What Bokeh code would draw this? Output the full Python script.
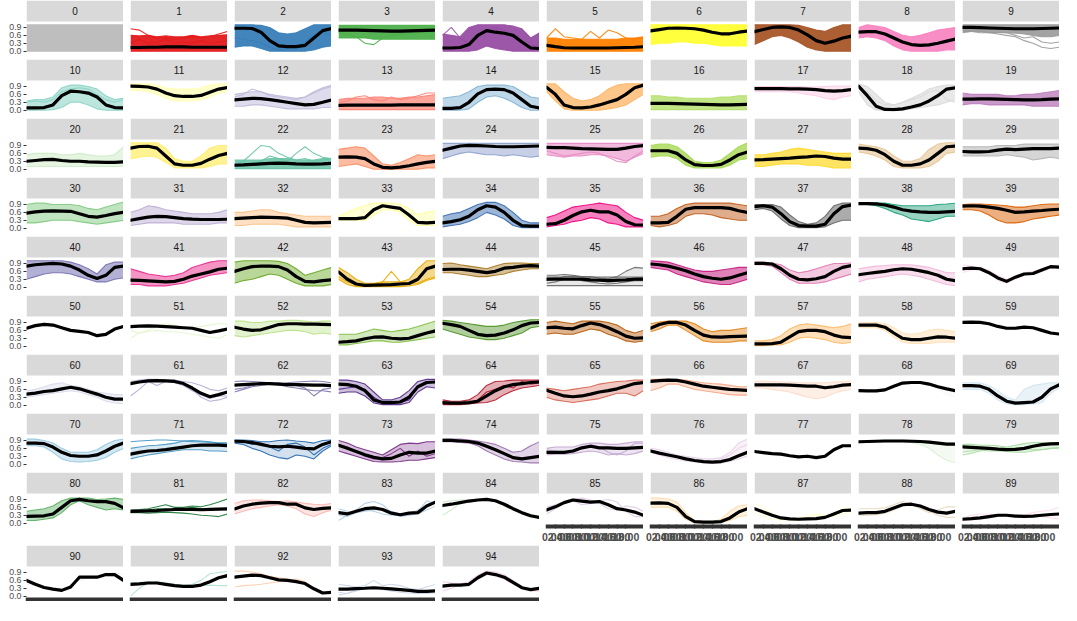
import numpy as np
from bokeh.plotting import figure
from bokeh.layouts import column, row
from bokeh.models import Range1d, FixedTicker, BoxAnnotation, Label, PrintfTickFormatter
from bokeh.embed import file_html
from bokeh.resources import INLINE

# ---------------- data ----------------
x_pos = list(range(12))
x_labels = ["00:00", "02:00", "04:00", "06:00", "08:00", "10:00",
            "12:00", "14:00", "16:00", "18:00", "20:00", "22:00"]
y_ticks = [0.0, 0.3, 0.6, 0.9]
cluster_ids = list(range(95))

cluster_colors = [
    "#BEBEBE",
    "#E41A1C", "#377EB8", "#4DAF4A", "#984EA3", "#FF7F00", "#FFFF33", "#A65628", "#F781BF", "#999999",
    "#8DD3C7", "#FFFFB3", "#BEBADA", "#FB8072", "#80B1D3", "#FDB462", "#B3DE69", "#FCCDE5", "#D9D9D9",
    "#BC80BD", "#CCEBC5", "#FFED6F",
    "#66C2A5", "#FC8D62", "#8DA0CB", "#E78AC3", "#A6D854", "#FFD92F", "#E5C494", "#B3B3B3",
    "#7FC97F", "#BEAED4", "#FDC086", "#FFFF99", "#386CB0", "#F0027F", "#BF5B17", "#666666",
    "#1B9E77", "#D95F02", "#7570B3", "#E7298A", "#66A61E", "#E6AB02", "#A6761D", "#666666",
    "#C51B7D", "#DE77AE", "#F1B6DA", "#FDE0EF", "#F7F7F7", "#E6F5D0", "#B8E186", "#7FBC41", "#4D9221",
    "#B35806", "#E08214", "#FDB863", "#FEE0B6", "#F7F7F7", "#D8DAEB", "#B2ABD2", "#8073AC", "#542788",
    "#B2182B", "#D6604D", "#F4A582", "#FDDBC7", "#F7F7F7", "#D1E5F0", "#92C5DE", "#4393C3", "#2166AC",
    "#762A83", "#9970AB", "#C2A5CF", "#E7D4E8", "#F7F7F7", "#D9F0D3", "#A6DBA0", "#5AAE61", "#1B7837",
    "#FBB4AE", "#B3CDE3", "#CCEBC5", "#DECBE4", "#FED9A6", "#FFFFCC", "#E5D8BD", "#FDDAEC", "#F2F2F2",
    "#B3E2CD", "#FDCDAC", "#CBD5E8", "#F4CAE4",
]

# opacity of the area covered by the first two member curves (lower, upper)
band_opacity = [
    1.0, 0.95, 0.95, 0.95, 0.95, 0.95, 0.95, 0.95, 0.9, 0.9,
    0.6, 0.7, 0.5, 0.7, 0.5, 0.75, 0.8, 0.5, 0.6, 0.8,
    0.5, 0.75, 0.85, 0.6, 0.5, 0.6, 0.8, 0.75, 0.6, 0.55,
    0.5, 0.5, 0.5, 0.4, 0.5, 0.5, 0.5, 0.55, 0.45, 0.5,
    0.55, 0.5, 0.45, 0.45, 0.45, 0.15, 0.55, 0.4, 0.45, 0.4,
    0.4, 0.0, 0.4, 0.35, 0.45, 0.45, 0.45, 0.45, 0.55, 0.5,
    0.4, 0.0, 0.0, 0.3, 0.35, 0.35, 0.35, 0.45, 0.5, 0.5,
    0.4, 0.2, 0.2, 0.3, 0.3, 0.3, 0.3, 0.0, 0.3, 0.3,
    0.45, 0.0, 0.35, 0.0, 0.0, 0.0, 0.35, 0.0, 0.0, 0.0,
    0.0, 0.0, 0.0, 0.0, 0.0,
]

mean_curves = [
    None,
    [0.14, 0.14, 0.15, 0.15, 0.16, 0.16, 0.16, 0.15, 0.15, 0.15, 0.15, 0.15],
    [0.87, 0.87, 0.86, 0.72, 0.4, 0.2, 0.17, 0.17, 0.22, 0.5, 0.78, 0.86],
    [0.8, 0.8, 0.8, 0.79, 0.78, 0.77, 0.76, 0.76, 0.77, 0.78, 0.79, 0.8],
    [0.12, 0.12, 0.14, 0.25, 0.6, 0.78, 0.72, 0.68, 0.6, 0.35, 0.12, 0.1],
    [0.22, 0.17, 0.13, 0.12, 0.12, 0.12, 0.12, 0.12, 0.13, 0.14, 0.15, 0.17],
    [0.77, 0.82, 0.87, 0.88, 0.87, 0.85, 0.8, 0.72, 0.66, 0.66, 0.72, 0.76],
    [0.74, 0.82, 0.9, 0.92, 0.9, 0.8, 0.62, 0.4, 0.3, 0.38, 0.5, 0.57],
    [0.72, 0.74, 0.74, 0.65, 0.5, 0.35, 0.25, 0.22, 0.24, 0.3, 0.38, 0.46],
    [0.9, 0.9, 0.89, 0.88, 0.87, 0.86, 0.85, 0.85, 0.85, 0.86, 0.87, 0.88],
    [0.09, 0.09, 0.1, 0.2, 0.55, 0.72, 0.7, 0.65, 0.5, 0.2, 0.1, 0.09],
    [0.91, 0.9, 0.88, 0.8, 0.65, 0.55, 0.52, 0.52, 0.56, 0.68, 0.8, 0.86],
    [0.39, 0.42, 0.45, 0.44, 0.4, 0.35, 0.3, 0.25, 0.2, 0.22, 0.3, 0.39],
    [0.18, 0.19, 0.19, 0.19, 0.19, 0.19, 0.19, 0.2, 0.2, 0.2, 0.2, 0.2],
    [0.07, 0.07, 0.1, 0.3, 0.62, 0.78, 0.8, 0.78, 0.65, 0.4, 0.15, 0.08],
    [0.87, 0.6, 0.2, 0.1, 0.09, 0.12, 0.2, 0.3, 0.4, 0.6, 0.85, 0.95],
    [0.26, 0.26, 0.26, 0.25, 0.24, 0.23, 0.22, 0.21, 0.2, 0.2, 0.21, 0.22],
    [0.82, 0.82, 0.82, 0.82, 0.81, 0.81, 0.8, 0.78, 0.74, 0.72, 0.74, 0.78],
    [0.91, 0.55, 0.15, 0.03, 0.02, 0.05, 0.12, 0.2, 0.35, 0.55, 0.8, 0.85],
    [0.42, 0.42, 0.43, 0.43, 0.42, 0.41, 0.4, 0.39, 0.39, 0.4, 0.42, 0.43],
    [0.3, 0.33, 0.36, 0.37, 0.33, 0.3, 0.3, 0.28, 0.27, 0.26, 0.26, 0.28],
    [0.8, 0.86, 0.87, 0.8, 0.5, 0.2, 0.15, 0.15, 0.22, 0.38, 0.52, 0.6],
    [0.15, 0.16, 0.18, 0.2, 0.22, 0.23, 0.22, 0.2, 0.19, 0.19, 0.2, 0.22],
    [0.46, 0.47, 0.46, 0.4, 0.2, 0.07, 0.05, 0.08, 0.13, 0.2, 0.26, 0.3],
    [0.72, 0.8, 0.88, 0.9, 0.89, 0.88, 0.86, 0.85, 0.85, 0.86, 0.87, 0.88],
    [0.83, 0.82, 0.82, 0.8, 0.78, 0.77, 0.76, 0.75, 0.75, 0.8, 0.86, 0.9],
    [0.7, 0.7, 0.7, 0.6, 0.35, 0.17, 0.14, 0.14, 0.18, 0.35, 0.55, 0.65],
    [0.35, 0.36, 0.38, 0.4, 0.42, 0.45, 0.47, 0.5, 0.48, 0.42, 0.38, 0.38],
    [0.8, 0.78, 0.72, 0.55, 0.3, 0.15, 0.15, 0.2, 0.35, 0.6, 0.85, 0.88],
    [0.67, 0.66, 0.66, 0.67, 0.72, 0.76, 0.74, 0.76, 0.78, 0.78, 0.78, 0.8],
    [0.57, 0.62, 0.65, 0.66, 0.65, 0.64, 0.55, 0.45, 0.42, 0.48, 0.55, 0.6],
    [0.3, 0.36, 0.42, 0.45, 0.44, 0.4, 0.36, 0.34, 0.33, 0.33, 0.33, 0.34],
    [0.36, 0.38, 0.4, 0.42, 0.41, 0.4, 0.38, 0.3, 0.22, 0.2, 0.21, 0.22],
    [0.36, 0.36, 0.36, 0.4, 0.7, 0.85, 0.8, 0.75, 0.5, 0.22, 0.2, 0.22],
    [0.2, 0.25, 0.32, 0.45, 0.7, 0.85, 0.8, 0.6, 0.3, 0.1, 0.08, 0.08],
    [0.15, 0.17, 0.3, 0.48, 0.62, 0.68, 0.62, 0.62, 0.5, 0.25, 0.13, 0.12],
    [0.2, 0.2, 0.22, 0.45, 0.72, 0.78, 0.78, 0.78, 0.78, 0.75, 0.66, 0.6],
    [0.82, 0.85, 0.8, 0.55, 0.25, 0.1, 0.08, 0.08, 0.15, 0.55, 0.82, 0.88],
    [0.93, 0.93, 0.92, 0.88, 0.8, 0.7, 0.65, 0.62, 0.6, 0.6, 0.62, 0.64],
    [0.84, 0.85, 0.84, 0.8, 0.75, 0.68, 0.6, 0.62, 0.65, 0.67, 0.7, 0.72],
    [0.8, 0.85, 0.88, 0.9, 0.88, 0.8, 0.65, 0.45, 0.33, 0.45, 0.75, 0.8],
    [0.27, 0.26, 0.24, 0.22, 0.2, 0.22, 0.3, 0.42, 0.5, 0.58, 0.68, 0.72],
    [0.6, 0.7, 0.78, 0.8, 0.8, 0.78, 0.65, 0.4, 0.22, 0.2, 0.25, 0.28],
    [0.58, 0.3, 0.12, 0.07, 0.08, 0.09, 0.1, 0.12, 0.14, 0.3, 0.7, 0.8],
    [0.67, 0.68, 0.68, 0.65, 0.6, 0.55, 0.6, 0.72, 0.75, 0.8, 0.82, 0.8],
    [0.3, 0.31, 0.3, 0.3, 0.3, 0.28, 0.27, 0.25, 0.27, 0.28, 0.3, 0.3],
    [0.88, 0.85, 0.8, 0.72, 0.62, 0.5, 0.4, 0.34, 0.3, 0.35, 0.45, 0.55],
    [0.9, 0.9, 0.88, 0.7, 0.45, 0.3, 0.28, 0.32, 0.4, 0.6, 0.75, 0.82],
    [0.47, 0.52, 0.56, 0.6, 0.66, 0.7, 0.68, 0.62, 0.55, 0.45, 0.3, 0.25],
    [0.7, 0.72, 0.7, 0.55, 0.35, 0.22, 0.38, 0.5, 0.52, 0.65, 0.78, 0.76],
    [0.68, 0.78, 0.83, 0.8, 0.7, 0.6, 0.56, 0.52, 0.4, 0.45, 0.65, 0.75],
    [0.74, 0.76, 0.77, 0.76, 0.74, 0.72, 0.7, 0.68, 0.6, 0.52, 0.58, 0.65],
    [0.72, 0.65, 0.6, 0.62, 0.72, 0.82, 0.85, 0.85, 0.84, 0.84, 0.83, 0.82],
    [0.15, 0.17, 0.2, 0.28, 0.34, 0.35, 0.3, 0.28, 0.3, 0.4, 0.5, 0.58],
    [0.87, 0.82, 0.75, 0.6, 0.45, 0.4, 0.42, 0.5, 0.62, 0.78, 0.88, 0.9],
    [0.7, 0.72, 0.68, 0.66, 0.78, 0.88, 0.82, 0.7, 0.55, 0.38, 0.3, 0.32],
    [0.68, 0.82, 0.9, 0.9, 0.8, 0.6, 0.42, 0.35, 0.34, 0.36, 0.37, 0.38],
    [0.09, 0.09, 0.1, 0.15, 0.35, 0.55, 0.6, 0.6, 0.55, 0.42, 0.34, 0.32],
    [0.8, 0.8, 0.8, 0.72, 0.5, 0.3, 0.25, 0.25, 0.3, 0.35, 0.34, 0.3],
    [0.9, 0.91, 0.9, 0.85, 0.75, 0.68, 0.68, 0.72, 0.7, 0.6, 0.5, 0.46],
    [0.42, 0.46, 0.52, 0.55, 0.62, 0.68, 0.62, 0.52, 0.42, 0.3, 0.23, 0.23],
    [0.82, 0.88, 0.92, 0.93, 0.92, 0.9, 0.82, 0.65, 0.45, 0.32, 0.4, 0.5],
    [0.76, 0.78, 0.8, 0.82, 0.82, 0.8, 0.78, 0.78, 0.77, 0.76, 0.76, 0.74],
    [0.8, 0.78, 0.72, 0.55, 0.2, 0.1, 0.1, 0.12, 0.3, 0.7, 0.86, 0.88],
    [0.1, 0.08, 0.08, 0.1, 0.15, 0.35, 0.55, 0.7, 0.78, 0.82, 0.86, 0.88],
    [0.57, 0.45, 0.35, 0.32, 0.35, 0.42, 0.5, 0.55, 0.62, 0.72, 0.82, 0.86],
    [0.9, 0.93, 0.95, 0.94, 0.88, 0.8, 0.72, 0.68, 0.64, 0.6, 0.58, 0.56],
    [0.77, 0.77, 0.77, 0.77, 0.76, 0.74, 0.72, 0.72, 0.66, 0.7, 0.76, 0.78],
    [0.55, 0.54, 0.54, 0.58, 0.72, 0.84, 0.86, 0.86, 0.8, 0.7, 0.62, 0.55],
    [0.74, 0.74, 0.72, 0.6, 0.35, 0.15, 0.08, 0.1, 0.12, 0.3, 0.62, 0.78],
    [0.8, 0.8, 0.78, 0.65, 0.45, 0.33, 0.3, 0.3, 0.35, 0.5, 0.68, 0.8],
    [0.38, 0.45, 0.5, 0.52, 0.55, 0.6, 0.65, 0.7, 0.72, 0.72, 0.72, 0.7],
    [0.87, 0.86, 0.82, 0.75, 0.68, 0.66, 0.68, 0.65, 0.6, 0.58, 0.75, 0.85],
    [0.72, 0.6, 0.48, 0.36, 0.26, 0.2, 0.22, 0.35, 0.45, 0.42, 0.42, 0.5],
    [0.9, 0.9, 0.88, 0.86, 0.8, 0.68, 0.55, 0.4, 0.25, 0.2, 0.25, 0.3],
    [0.45, 0.45, 0.45, 0.5, 0.62, 0.68, 0.62, 0.62, 0.6, 0.6, 0.62, 0.64],
    [0.5, 0.42, 0.35, 0.28, 0.2, 0.14, 0.1, 0.08, 0.1, 0.18, 0.32, 0.45],
    [0.48, 0.44, 0.4, 0.38, 0.32, 0.28, 0.3, 0.25, 0.3, 0.55, 0.7, 0.7],
    [0.85, 0.86, 0.87, 0.88, 0.88, 0.88, 0.87, 0.86, 0.84, 0.8, 0.76, 0.76],
    [0.66, 0.64, 0.62, 0.6, 0.57, 0.55, 0.56, 0.6, 0.68, 0.74, 0.77, 0.78],
    [0.26, 0.27, 0.28, 0.35, 0.6, 0.85, 0.9, 0.85, 0.82, 0.82, 0.75, 0.58],
    [0.45, 0.46, 0.47, 0.48, 0.5, 0.52, 0.52, 0.52, 0.51, 0.52, 0.53, 0.54],
    [0.54, 0.65, 0.72, 0.76, 0.78, 0.78, 0.72, 0.72, 0.58, 0.52, 0.56, 0.58],
    [0.4, 0.35, 0.45, 0.55, 0.58, 0.52, 0.38, 0.32, 0.38, 0.4, 0.65, 0.8],
    [0.67, 0.72, 0.78, 0.84, 0.88, 0.9, 0.85, 0.72, 0.55, 0.4, 0.28, 0.22],
    [0.5, 0.62, 0.78, 0.88, 0.84, 0.8, 0.82, 0.7, 0.55, 0.5, 0.42, 0.3],
    [0.76, 0.77, 0.75, 0.6, 0.25, 0.06, 0.04, 0.04, 0.06, 0.2, 0.42, 0.55],
    [0.55, 0.42, 0.3, 0.2, 0.16, 0.15, 0.16, 0.17, 0.22, 0.35, 0.48, 0.5],
    [0.38, 0.4, 0.4, 0.45, 0.58, 0.7, 0.72, 0.65, 0.52, 0.42, 0.38, 0.45],
    [0.15, 0.17, 0.2, 0.25, 0.3, 0.3, 0.27, 0.26, 0.27, 0.3, 0.33, 0.35],
    [0.6, 0.45, 0.33, 0.27, 0.22, 0.35, 0.72, 0.72, 0.72, 0.82, 0.82, 0.6],
    [0.45, 0.47, 0.5, 0.5, 0.45, 0.4, 0.37, 0.37, 0.42, 0.55, 0.7, 0.78],
    [0.72, 0.76, 0.8, 0.78, 0.7, 0.62, 0.6, 0.55, 0.48, 0.28, 0.12, 0.15],
    [0.27, 0.27, 0.29, 0.3, 0.32, 0.3, 0.28, 0.25, 0.22, 0.18, 0.18, 0.2],
    [0.38, 0.42, 0.42, 0.45, 0.7, 0.88, 0.82, 0.72, 0.52, 0.32, 0.25, 0.3],
]

# member curves of each cluster; the first two bound the shaded band
member_curves = [
    [[0.0, 0.0, 0.0, 0.0, 0.0, 0.0, 0.0, 0.0, 0.0, 0.0, 0.0, 0.0],
     [1.0, 1.0, 1.0, 1.0, 1.0, 1.0, 1.0, 1.0, 1.0, 1.0, 1.0, 1.0]],
    [[0.0, 0.0, 0.0, 0.0, 0.0, 0.0, 0.0, 0.0, 0.0, 0.0, 0.0, 0.0],
     [0.6, 0.58, 0.6, 0.55, 0.58, 0.55, 0.55, 0.6, 0.55, 0.58, 0.6, 0.62],
     [0.85, 0.8, 0.6, 0.5, 0.5, 0.45, 0.5, 0.55, 0.5, 0.55, 0.65, 0.75],
     [0.3, 0.45, 0.3, 0.35, 0.45, 0.3, 0.35, 0.3, 0.4, 0.3, 0.35, 0.4]],
    [[0.15, 0.2, 0.2, 0.1, 0.0, 0.0, 0.0, 0.0, 0.0, 0.05, 0.15, 0.2],
     [1.0, 1.0, 1.0, 0.98, 0.9, 0.7, 0.65, 0.7, 0.85, 1.0, 1.0, 1.0],
     [0.5, 0.45, 0.4, 0.3, 0.15, 0.05, 0.1, 0.2, 0.35, 0.6, 0.7, 0.6]],
    [[0.5, 0.5, 0.5, 0.5, 0.45, 0.45, 0.45, 0.45, 0.45, 0.45, 0.45, 0.45],
     [0.98, 0.98, 0.98, 0.98, 0.98, 0.98, 0.98, 0.98, 0.98, 0.98, 0.98, 0.98],
     [0.7, 0.65, 0.55, 0.3, 0.25, 0.5, 0.6, 0.65, 0.7, 0.7, 0.7, 0.7]],
    [[0.0, 0.0, 0.0, 0.0, 0.05, 0.2, 0.1, 0.05, 0.0, 0.0, 0.0, 0.0],
     [0.65, 0.6, 0.55, 0.9, 1.0, 1.0, 1.0, 1.0, 0.95, 0.85, 0.5, 0.7],
     [0.6, 0.9, 0.5, 0.3, 0.5, 0.8, 0.9, 0.8, 0.6, 0.3, 0.2, 0.2]],
    [[0.0, 0.0, 0.0, 0.0, 0.0, 0.0, 0.0, 0.0, 0.0, 0.0, 0.0, 0.0],
     [0.5, 0.5, 0.45, 0.45, 0.45, 0.45, 0.45, 0.45, 0.45, 0.5, 0.5, 0.55],
     [0.5, 0.85, 0.55, 0.5, 0.45, 0.75, 0.5, 0.8, 0.7, 0.5, 0.45, 0.5]],
    [[0.25, 0.3, 0.3, 0.35, 0.35, 0.3, 0.3, 0.25, 0.2, 0.2, 0.2, 0.2],
     [1.0, 1.0, 1.0, 1.0, 1.0, 1.0, 1.0, 1.0, 1.0, 1.0, 1.0, 1.0]],
    [[0.25, 0.4, 0.55, 0.6, 0.5, 0.35, 0.15, 0.05, 0.0, 0.0, 0.0, 0.0],
     [1.0, 1.0, 1.0, 1.0, 1.0, 0.98, 0.9, 0.8, 0.75, 0.9, 1.0, 1.0]],
    [[0.5, 0.55, 0.5, 0.4, 0.2, 0.05, 0.0, 0.0, 0.0, 0.0, 0.05, 0.05],
     [0.9, 1.0, 0.95, 0.9, 0.75, 0.6, 0.55, 0.6, 0.7, 0.8, 0.85, 0.9]],
    [[0.7, 0.75, 0.75, 0.72, 0.7, 0.7, 0.68, 0.65, 0.6, 0.55, 0.55, 0.6],
     [1.0, 1.0, 1.0, 1.0, 1.0, 1.0, 1.0, 1.0, 1.0, 1.0, 1.0, 1.0],
     [0.75, 0.75, 0.7, 0.7, 0.65, 0.6, 0.55, 0.4, 0.3, 0.15, 0.1, 0.15],
     [0.8, 0.78, 0.75, 0.7, 0.72, 0.7, 0.6, 0.5, 0.55, 0.35, 0.3, 0.35]],
    [[0.0, 0.0, 0.0, 0.02, 0.1, 0.3, 0.3, 0.2, 0.05, 0.0, 0.0, 0.0],
     [0.35, 0.4, 0.4, 0.5, 0.85, 0.95, 0.95, 0.9, 0.8, 0.55, 0.4, 0.45],
     [0.3, 0.35, 0.3, 0.4, 0.7, 0.8, 0.85, 0.8, 0.6, 0.4, 0.3, 0.4]],
    [[0.75, 0.75, 0.7, 0.6, 0.45, 0.35, 0.35, 0.35, 0.4, 0.5, 0.65, 0.7],
     [1.0, 1.0, 1.0, 0.95, 0.85, 0.8, 0.8, 0.8, 0.85, 0.95, 1.0, 1.0]],
    [[0.15, 0.15, 0.2, 0.2, 0.15, 0.1, 0.05, 0.05, 0.05, 0.05, 0.1, 0.1],
     [0.6, 0.65, 0.7, 0.7, 0.6, 0.55, 0.5, 0.45, 0.5, 0.7, 0.85, 0.95],
     [0.5, 0.6, 0.8, 0.7, 0.55, 0.5, 0.45, 0.4, 0.5, 0.65, 0.8, 0.9]],
    [[0.02, 0.02, 0.02, 0.02, 0.02, 0.02, 0.02, 0.02, 0.02, 0.02, 0.02, 0.02],
     [0.4, 0.45, 0.45, 0.45, 0.5, 0.5, 0.45, 0.45, 0.5, 0.5, 0.55, 0.6],
     [0.3, 0.35, 0.5, 0.55, 0.4, 0.35, 0.5, 0.4, 0.45, 0.55, 0.65, 0.65]],
    [[0.0, 0.0, 0.0, 0.05, 0.3, 0.5, 0.55, 0.45, 0.3, 0.1, 0.0, 0.0],
     [0.45, 0.5, 0.55, 0.7, 0.9, 0.95, 0.95, 0.95, 0.9, 0.7, 0.5, 0.45]],
    [[0.7, 0.35, 0.05, 0.0, 0.0, 0.0, 0.0, 0.05, 0.1, 0.2, 0.4, 0.6],
     [1.0, 1.0, 0.7, 0.45, 0.35, 0.4, 0.55, 0.8, 0.95, 1.0, 1.0, 1.0]],
    [[0.02, 0.02, 0.02, 0.02, 0.02, 0.02, 0.02, 0.02, 0.02, 0.02, 0.02, 0.02],
     [0.55, 0.55, 0.5, 0.5, 0.45, 0.45, 0.45, 0.45, 0.5, 0.5, 0.55, 0.55]],
    [[0.7, 0.7, 0.7, 0.7, 0.7, 0.65, 0.6, 0.55, 0.45, 0.4, 0.5, 0.55],
     [0.9, 0.9, 0.9, 0.9, 0.9, 0.9, 0.88, 0.88, 0.9, 0.92, 0.92, 0.92]],
    [[0.7, 0.2, 0.0, 0.0, 0.0, 0.0, 0.05, 0.1, 0.15, 0.2, 0.3, 0.4],
     [1.0, 0.9, 0.6, 0.3, 0.2, 0.3, 0.45, 0.6, 0.8, 0.9, 0.95, 0.95],
     [0.9, 0.7, 0.35, 0.2, 0.2, 0.3, 0.4, 0.5, 0.7, 0.75, 0.4, 0.3]],
    [[0.2, 0.25, 0.25, 0.2, 0.2, 0.2, 0.2, 0.2, 0.15, 0.15, 0.15, 0.15],
     [0.65, 0.6, 0.6, 0.6, 0.6, 0.55, 0.55, 0.6, 0.6, 0.65, 0.7, 0.75]],
    [[0.1, 0.1, 0.1, 0.1, 0.1, 0.1, 0.1, 0.1, 0.1, 0.1, 0.1, 0.1],
     [0.55, 0.6, 0.6, 0.6, 0.55, 0.55, 0.6, 0.55, 0.5, 0.5, 0.55, 0.85]],
    [[0.4, 0.45, 0.5, 0.45, 0.25, 0.05, 0.05, 0.05, 0.05, 0.1, 0.2, 0.2],
     [1.0, 1.0, 1.0, 1.0, 0.8, 0.4, 0.3, 0.3, 0.5, 0.8, 0.9, 0.9]],
    [[0.02, 0.02, 0.02, 0.02, 0.02, 0.02, 0.02, 0.02, 0.02, 0.02, 0.02, 0.02],
     [0.35, 0.35, 0.35, 0.35, 0.4, 0.4, 0.4, 0.35, 0.35, 0.35, 0.4, 0.4],
     [0.2, 0.3, 0.6, 0.9, 0.85, 0.6, 0.45, 0.35, 0.4, 0.3, 0.35, 0.4],
     [0.1, 0.15, 0.2, 0.3, 0.5, 0.4, 0.3, 0.6, 0.85, 0.6, 0.45, 0.4]],
    [[0.1, 0.15, 0.2, 0.1, 0.0, 0.0, 0.0, 0.0, 0.0, 0.0, 0.05, 0.05],
     [0.75, 0.8, 0.85, 0.8, 0.5, 0.2, 0.15, 0.25, 0.4, 0.55, 0.5, 0.55]],
    [[0.4, 0.5, 0.6, 0.65, 0.6, 0.55, 0.55, 0.5, 0.55, 0.5, 0.45, 0.5],
     [0.98, 0.98, 0.98, 0.98, 0.98, 0.98, 0.98, 0.98, 0.98, 0.98, 0.98, 0.98]],
    [[0.55, 0.5, 0.45, 0.5, 0.5, 0.55, 0.55, 0.5, 0.4, 0.3, 0.45, 0.6],
     [0.98, 0.98, 0.98, 0.98, 0.98, 0.98, 0.98, 0.98, 0.98, 0.98, 0.98, 0.98],
     [0.7, 0.6, 0.5, 0.55, 0.6, 0.65, 0.6, 0.45, 0.3, 0.25, 0.5, 0.7]],
    [[0.45, 0.5, 0.5, 0.4, 0.15, 0.05, 0.05, 0.05, 0.05, 0.15, 0.35, 0.4],
     [0.9, 0.95, 0.95, 0.85, 0.6, 0.3, 0.25, 0.25, 0.35, 0.6, 0.85, 1.0]],
    [[0.1, 0.1, 0.15, 0.2, 0.2, 0.2, 0.15, 0.15, 0.1, 0.05, 0.05, 0.05],
     [0.55, 0.55, 0.6, 0.65, 0.75, 0.8, 0.75, 0.7, 0.65, 0.6, 0.6, 0.6]],
    [[0.65, 0.6, 0.5, 0.35, 0.1, 0.05, 0.05, 0.05, 0.1, 0.3, 0.6, 0.65],
     [0.95, 0.9, 0.85, 0.75, 0.5, 0.3, 0.3, 0.4, 0.75, 0.95, 1.0, 1.0]],
    [[0.5, 0.5, 0.5, 0.5, 0.5, 0.55, 0.5, 0.45, 0.35, 0.4, 0.45, 0.4],
     [0.85, 0.85, 0.85, 0.85, 0.9, 0.9, 0.9, 0.95, 0.95, 0.95, 0.95, 0.95]],
    [[0.2, 0.2, 0.25, 0.3, 0.3, 0.3, 0.25, 0.2, 0.15, 0.2, 0.25, 0.3],
     [0.9, 0.95, 0.95, 0.9, 0.9, 0.9, 0.85, 0.75, 0.7, 0.8, 0.9, 1.0]],
    [[0.1, 0.15, 0.2, 0.2, 0.2, 0.2, 0.15, 0.15, 0.15, 0.15, 0.2, 0.2],
     [0.6, 0.7, 0.85, 0.8, 0.7, 0.65, 0.6, 0.55, 0.55, 0.55, 0.6, 0.7]],
    [[0.1, 0.1, 0.15, 0.15, 0.15, 0.15, 0.1, 0.05, 0.05, 0.05, 0.05, 0.05],
     [0.6, 0.6, 0.65, 0.7, 0.7, 0.6, 0.55, 0.5, 0.45, 0.45, 0.45, 0.45]],
    [[0.3, 0.3, 0.3, 0.3, 0.5, 0.7, 0.7, 0.6, 0.3, 0.1, 0.1, 0.1],
     [0.45, 0.6, 0.75, 0.85, 0.95, 0.95, 0.95, 0.9, 0.75, 0.5, 0.6, 0.65]],
    [[0.05, 0.1, 0.15, 0.25, 0.4, 0.6, 0.5, 0.35, 0.1, 0.02, 0.02, 0.02],
     [0.45, 0.55, 0.6, 0.75, 0.9, 0.98, 0.98, 0.85, 0.6, 0.3, 0.2, 0.2]],
    [[0.05, 0.1, 0.15, 0.25, 0.3, 0.4, 0.35, 0.2, 0.15, 0.05, 0.05, 0.05],
     [0.4, 0.5, 0.65, 0.8, 0.85, 0.9, 0.95, 0.9, 0.85, 0.6, 0.4, 0.3]],
    [[0.1, 0.05, 0.1, 0.2, 0.45, 0.55, 0.55, 0.5, 0.4, 0.35, 0.3, 0.3],
     [0.45, 0.45, 0.55, 0.75, 0.9, 0.95, 0.95, 0.95, 0.95, 0.95, 0.9, 0.85]],
    [[0.7, 0.75, 0.65, 0.35, 0.1, 0.02, 0.02, 0.02, 0.05, 0.2, 0.3, 0.3],
     [0.9, 0.9, 0.9, 0.8, 0.5, 0.25, 0.15, 0.2, 0.45, 0.85, 0.95, 0.95]],
    [[0.9, 0.9, 0.85, 0.75, 0.6, 0.5, 0.35, 0.3, 0.25, 0.35, 0.45, 0.45],
     [0.95, 0.95, 0.95, 0.95, 0.9, 0.85, 0.85, 0.85, 0.85, 0.9, 0.92, 0.95]],
    [[0.7, 0.7, 0.65, 0.5, 0.3, 0.2, 0.2, 0.25, 0.35, 0.4, 0.45, 0.5],
     [0.9, 0.92, 0.92, 0.9, 0.88, 0.85, 0.8, 0.8, 0.85, 0.9, 0.92, 0.92]],
    [[0.3, 0.4, 0.5, 0.55, 0.55, 0.5, 0.4, 0.3, 0.2, 0.2, 0.3, 0.35],
     [1.0, 1.0, 1.0, 1.0, 1.0, 0.95, 0.85, 0.7, 0.5, 0.85, 0.95, 0.95]],
    [[0.1, 0.1, 0.05, 0.05, 0.05, 0.1, 0.15, 0.25, 0.35, 0.45, 0.5, 0.55],
     [0.7, 0.6, 0.5, 0.45, 0.4, 0.45, 0.55, 0.75, 0.85, 0.95, 1.0, 1.0]],
    [[0.15, 0.25, 0.3, 0.4, 0.5, 0.45, 0.3, 0.15, 0.05, 0.05, 0.05, 0.1],
     [0.95, 1.0, 1.0, 1.0, 1.0, 0.98, 0.9, 0.7, 0.45, 0.55, 0.65, 0.75]],
    [[0.3, 0.1, 0.02, 0.02, 0.02, 0.02, 0.02, 0.02, 0.05, 0.1, 0.25, 0.35],
     [0.75, 0.55, 0.3, 0.15, 0.15, 0.2, 0.2, 0.2, 0.3, 0.7, 1.0, 1.0],
     [0.4, 0.2, 0.1, 0.08, 0.1, 0.2, 0.6, 0.2, 0.15, 0.15, 0.3, 0.4]],
    [[0.55, 0.55, 0.5, 0.45, 0.4, 0.4, 0.45, 0.5, 0.6, 0.65, 0.7, 0.7],
     [0.9, 0.92, 0.85, 0.8, 0.75, 0.7, 0.8, 0.9, 0.92, 0.92, 0.9, 0.9]],
    [[0.06, 0.06, 0.06, 0.06, 0.06, 0.06, 0.06, 0.06, 0.06, 0.06, 0.06, 0.06],
     [0.45, 0.45, 0.48, 0.45, 0.4, 0.4, 0.35, 0.32, 0.4, 0.6, 0.75, 0.72],
     [0.38, 0.38, 0.38, 0.38, 0.38, 0.38, 0.38, 0.38, 0.38, 0.38, 0.38, 0.38],
     [0.15, 0.2, 0.3, 0.35, 0.25, 0.2, 0.15, 0.12, 0.15, 0.2, 0.25, 0.25],
     [0.25, 0.3, 0.4, 0.42, 0.38, 0.3, 0.25, 0.2, 0.22, 0.3, 0.35, 0.38]],
    [[0.75, 0.7, 0.65, 0.5, 0.4, 0.3, 0.2, 0.15, 0.1, 0.1, 0.2, 0.3],
     [1.0, 0.98, 0.95, 0.85, 0.75, 0.65, 0.6, 0.6, 0.65, 0.7, 0.75, 0.75]],
    [[0.85, 0.85, 0.8, 0.55, 0.3, 0.15, 0.15, 0.15, 0.2, 0.3, 0.4, 0.5],
     [0.95, 0.95, 0.92, 0.85, 0.65, 0.55, 0.6, 0.7, 0.8, 0.9, 0.9, 0.92]],
    [[0.2, 0.3, 0.35, 0.4, 0.45, 0.5, 0.45, 0.4, 0.3, 0.2, 0.1, 0.05],
     [0.7, 0.75, 0.8, 0.82, 0.85, 0.85, 0.85, 0.8, 0.75, 0.65, 0.55, 0.55]],
    [[0.55, 0.65, 0.68, 0.55, 0.25, 0.15, 0.3, 0.45, 0.5, 0.6, 0.72, 0.7],
     [0.85, 0.8, 0.75, 0.65, 0.45, 0.3, 0.4, 0.55, 0.6, 0.7, 0.8, 0.85]],
    [[0.6, 0.7, 0.75, 0.7, 0.6, 0.55, 0.55, 0.5, 0.45, 0.5, 0.6, 0.7],
     [0.75, 0.85, 0.88, 0.85, 0.75, 0.65, 0.6, 0.55, 0.35, 0.4, 0.7, 0.8]],
    [[0.6, 0.5, 0.55, 0.6, 0.55, 0.55, 0.5, 0.45, 0.4, 0.35, 0.3, 0.45],
     [0.3, 0.5, 0.6, 0.75, 0.85, 0.8, 0.7, 0.7, 0.75, 0.8, 0.85, 0.85]],
    [[0.4, 0.35, 0.4, 0.45, 0.5, 0.55, 0.6, 0.6, 0.55, 0.45, 0.5, 0.45],
     [0.95, 0.95, 0.9, 0.9, 0.95, 0.95, 0.98, 0.98, 0.95, 0.92, 0.95, 0.95]],
    [[0.05, 0.05, 0.1, 0.15, 0.2, 0.2, 0.15, 0.15, 0.2, 0.25, 0.3, 0.35],
     [0.45, 0.45, 0.45, 0.55, 0.65, 0.6, 0.55, 0.6, 0.65, 0.75, 0.85, 0.95]],
    [[0.65, 0.55, 0.45, 0.35, 0.3, 0.25, 0.25, 0.3, 0.4, 0.5, 0.7, 0.75],
     [0.98, 0.95, 0.9, 0.85, 0.8, 0.75, 0.75, 0.8, 0.9, 0.95, 1.0, 1.0]],
    [[0.45, 0.5, 0.45, 0.45, 0.55, 0.65, 0.6, 0.45, 0.35, 0.2, 0.15, 0.2],
     [0.9, 0.95, 0.9, 0.85, 0.95, 0.95, 0.95, 0.9, 0.8, 0.6, 0.5, 0.6]],
    [[0.55, 0.65, 0.8, 0.8, 0.6, 0.4, 0.2, 0.15, 0.15, 0.15, 0.2, 0.2],
     [0.85, 0.92, 0.95, 0.95, 0.95, 0.85, 0.65, 0.55, 0.6, 0.6, 0.65, 0.7]],
    [[0.02, 0.02, 0.05, 0.05, 0.15, 0.3, 0.35, 0.3, 0.25, 0.15, 0.1, 0.15],
     [0.2, 0.2, 0.25, 0.4, 0.65, 0.8, 0.85, 0.8, 0.75, 0.7, 0.75, 0.85]],
    [[0.7, 0.7, 0.7, 0.6, 0.35, 0.15, 0.1, 0.1, 0.1, 0.15, 0.15, 0.15],
     [0.9, 0.9, 0.9, 0.85, 0.7, 0.5, 0.45, 0.5, 0.6, 0.65, 0.6, 0.55]],
    [[0.88, 0.9, 0.88, 0.82, 0.72, 0.62, 0.62, 0.7, 0.68, 0.55, 0.45, 0.42],
     [0.9, 0.92, 0.92, 0.88, 0.8, 0.72, 0.72, 0.75, 0.72, 0.65, 0.55, 0.5]],
    [[0.3, 0.35, 0.4, 0.45, 0.5, 0.55, 0.5, 0.4, 0.3, 0.15, 0.08, 0.05],
     [0.55, 0.6, 0.7, 0.8, 0.85, 0.75, 0.7, 0.6, 0.5, 0.45, 0.4, 0.4]],
    [[0.35, 0.6, 0.9, 0.75, 0.9, 0.95, 0.85, 0.6, 0.3, 0.15, 0.2, 0.3],
     [0.9, 0.95, 0.98, 0.98, 0.95, 0.95, 0.9, 0.85, 0.75, 0.6, 0.55, 0.65],
     [0.8, 0.9, 0.9, 0.9, 0.9, 0.85, 0.75, 0.55, 0.4, 0.25, 0.35, 0.35]],
    [[0.5, 0.6, 0.7, 0.75, 0.8, 0.85, 0.8, 0.75, 0.65, 0.35, 0.6, 0.65],
     [0.9, 0.92, 0.9, 0.88, 0.85, 0.8, 0.85, 0.88, 0.9, 0.92, 0.9, 0.85],
     [0.6, 0.65, 0.75, 0.8, 0.82, 0.78, 0.7, 0.65, 0.6, 0.55, 0.55, 0.5]],
    [[0.45, 0.5, 0.5, 0.35, 0.08, 0.02, 0.02, 0.02, 0.1, 0.5, 0.7, 0.65],
     [0.95, 0.95, 0.9, 0.8, 0.5, 0.2, 0.2, 0.3, 0.55, 0.9, 0.98, 0.98],
     [0.6, 0.65, 0.7, 0.6, 0.3, 0.1, 0.08, 0.1, 0.2, 0.7, 0.9, 0.9]],
    [[0.02, 0.02, 0.02, 0.05, 0.08, 0.1, 0.2, 0.4, 0.55, 0.65, 0.7, 0.75],
     [0.2, 0.15, 0.15, 0.2, 0.4, 0.75, 0.9, 0.92, 0.95, 0.95, 0.95, 0.95],
     [0.1, 0.1, 0.08, 0.1, 0.2, 0.5, 0.6, 0.75, 0.65, 0.9, 0.8, 0.85]],
    [[0.3, 0.2, 0.15, 0.1, 0.15, 0.2, 0.25, 0.35, 0.45, 0.45, 0.35, 0.55],
     [0.65, 0.6, 0.55, 0.6, 0.65, 0.7, 0.8, 0.85, 0.9, 0.92, 0.95, 0.95]],
    [[0.55, 0.65, 0.8, 0.8, 0.7, 0.6, 0.55, 0.5, 0.45, 0.4, 0.38, 0.38],
     [0.98, 0.98, 0.98, 0.98, 0.95, 0.9, 0.85, 0.82, 0.8, 0.75, 0.7, 0.7]],
    [[0.65, 0.65, 0.6, 0.55, 0.5, 0.4, 0.3, 0.25, 0.3, 0.45, 0.55, 0.6],
     [0.9, 0.92, 0.9, 0.88, 0.88, 0.85, 0.85, 0.85, 0.85, 0.88, 0.9, 0.92]],
    [[0.5, 0.5, 0.5, 0.55, 0.7, 0.8, 0.85, 0.85, 0.75, 0.6, 0.4, 0.3],
     [0.6, 0.58, 0.58, 0.62, 0.75, 0.88, 0.88, 0.88, 0.82, 0.75, 0.7, 0.6]],
    [[0.6, 0.6, 0.6, 0.45, 0.2, 0.05, 0.02, 0.02, 0.05, 0.1, 0.45, 0.65],
     [0.85, 0.85, 0.85, 0.75, 0.55, 0.3, 0.2, 0.6, 0.75, 0.8, 0.85, 0.85]],
    [[0.7, 0.7, 0.65, 0.45, 0.2, 0.1, 0.08, 0.1, 0.15, 0.25, 0.45, 0.6],
     [0.95, 0.95, 0.9, 0.8, 0.6, 0.45, 0.45, 0.45, 0.55, 0.75, 0.9, 0.95]],
    [[0.2, 0.28, 0.35, 0.4, 0.45, 0.5, 0.55, 0.55, 0.55, 0.5, 0.5, 0.48],
     [0.6, 0.65, 0.7, 0.72, 0.75, 0.8, 0.88, 0.9, 0.88, 0.85, 0.8, 0.8],
     [0.85, 0.88, 0.9, 0.92, 0.92, 0.9, 0.88, 0.85, 0.85, 0.82, 0.8, 0.8]],
    [[0.8, 0.75, 0.6, 0.5, 0.35, 0.25, 0.2, 0.35, 0.3, 0.2, 0.5, 0.7],
     [0.92, 0.92, 0.9, 0.85, 0.85, 0.9, 0.92, 0.88, 0.85, 0.8, 0.9, 0.92],
     [0.9, 0.85, 0.75, 0.8, 0.65, 0.5, 0.75, 0.8, 0.65, 0.35, 0.6, 0.75]],
    [[0.5, 0.4, 0.3, 0.2, 0.1, 0.08, 0.08, 0.1, 0.15, 0.15, 0.2, 0.25],
     [0.9, 0.8, 0.65, 0.55, 0.45, 0.35, 0.55, 0.75, 0.8, 0.78, 0.85, 0.85],
     [0.75, 0.65, 0.5, 0.3, 0.2, 0.25, 0.4, 0.6, 0.3, 0.5, 0.3, 0.4]],
    [[0.85, 0.85, 0.82, 0.8, 0.7, 0.5, 0.35, 0.2, 0.1, 0.08, 0.05, 0.05],
     [0.95, 0.95, 0.95, 0.92, 0.88, 0.82, 0.75, 0.6, 0.45, 0.5, 0.7, 0.85]],
    [[0.35, 0.38, 0.38, 0.4, 0.45, 0.5, 0.45, 0.35, 0.4, 0.35, 0.4, 0.5],
     [0.6, 0.65, 0.65, 0.65, 0.75, 0.8, 0.8, 0.75, 0.75, 0.8, 0.85, 0.85],
     [0.55, 0.5, 0.45, 0.45, 0.6, 0.75, 0.65, 0.45, 0.35, 0.5, 0.8, 0.8]],
    [[0.45, 0.35, 0.25, 0.18, 0.12, 0.08, 0.05, 0.04, 0.05, 0.1, 0.2, 0.3],
     [0.6, 0.55, 0.45, 0.35, 0.3, 0.25, 0.2, 0.2, 0.25, 0.45, 0.8, 0.95],
     [0.55, 0.45, 0.38, 0.3, 0.2, 0.15, 0.1, 0.1, 0.2, 0.35, 0.6, 0.75]],
    [[0.45, 0.42, 0.38, 0.35, 0.28, 0.25, 0.25, 0.22, 0.25, 0.5, 0.72, 0.75],
     [0.5, 0.45, 0.4, 0.38, 0.35, 0.3, 0.35, 0.3, 0.4, 0.55, 0.65, 0.6]],
    [[0.8, 0.82, 0.84, 0.85, 0.85, 0.85, 0.82, 0.75, 0.6, 0.35, 0.15, 0.05],
     [0.85, 0.88, 0.9, 0.92, 0.92, 0.92, 0.92, 0.9, 0.88, 0.85, 0.82, 0.8]],
    [[0.45, 0.5, 0.55, 0.5, 0.5, 0.48, 0.45, 0.45, 0.5, 0.55, 0.6, 0.62],
     [0.75, 0.75, 0.72, 0.72, 0.7, 0.65, 0.72, 0.78, 0.82, 0.82, 0.82, 0.82],
     [0.35, 0.42, 0.5, 0.58, 0.6, 0.6, 0.62, 0.6, 0.55, 0.55, 0.6, 0.62]],
    [[0.1, 0.1, 0.15, 0.2, 0.4, 0.7, 0.85, 0.7, 0.6, 0.5, 0.55, 0.5],
     [0.45, 0.5, 0.55, 0.65, 0.85, 0.95, 0.95, 0.95, 0.9, 0.92, 0.95, 0.9]],
    [[0.4, 0.4, 0.38, 0.4, 0.42, 0.4, 0.38, 0.35, 0.3, 0.28, 0.25, 0.35],
     [0.5, 0.52, 0.55, 0.62, 0.7, 0.6, 0.6, 0.65, 0.62, 0.7, 0.8, 0.92],
     [0.42, 0.45, 0.5, 0.55, 0.55, 0.5, 0.55, 0.6, 0.55, 0.5, 0.55, 0.5]],
    [[0.35, 0.45, 0.55, 0.6, 0.65, 0.7, 0.65, 0.55, 0.35, 0.25, 0.4, 0.5],
     [0.75, 0.85, 0.88, 0.88, 0.85, 0.82, 0.85, 0.8, 0.75, 0.72, 0.7, 0.75]],
    [[0.1, 0.3, 0.5, 0.75, 0.82, 0.7, 0.4, 0.25, 0.3, 0.45, 0.85, 0.75],
     [0.55, 0.45, 0.4, 0.45, 0.5, 0.55, 0.45, 0.35, 0.35, 0.5, 0.7, 0.85],
     [0.3, 0.25, 0.4, 0.5, 0.45, 0.35, 0.3, 0.28, 0.3, 0.35, 0.5, 0.65]],
    [[0.3, 0.5, 0.75, 0.85, 0.9, 0.9, 0.82, 0.65, 0.5, 0.35, 0.22, 0.18],
     [0.8, 0.85, 0.88, 0.9, 0.9, 0.92, 0.88, 0.75, 0.6, 0.45, 0.32, 0.28]],
    [[0.35, 0.55, 0.75, 0.85, 0.7, 0.75, 0.85, 0.9, 0.8, 0.45, 0.25, 0.25],
     [0.6, 0.7, 0.82, 0.92, 0.95, 0.88, 0.75, 0.55, 0.5, 0.65, 0.6, 0.45]],
    [[0.6, 0.62, 0.6, 0.45, 0.15, 0.03, 0.02, 0.02, 0.03, 0.1, 0.25, 0.3],
     [0.95, 0.95, 0.92, 0.8, 0.4, 0.1, 0.06, 0.06, 0.15, 0.45, 0.65, 0.7]],
    [[0.75, 0.6, 0.35, 0.15, 0.1, 0.12, 0.2, 0.35, 0.3, 0.25, 0.35, 0.45],
     [0.4, 0.25, 0.15, 0.12, 0.15, 0.2, 0.3, 0.3, 0.25, 0.4, 0.55, 0.55]],
    [[0.55, 0.55, 0.55, 0.58, 0.7, 0.82, 0.72, 0.55, 0.4, 0.5, 0.62, 0.62],
     [0.3, 0.3, 0.32, 0.38, 0.5, 0.65, 0.7, 0.6, 0.45, 0.3, 0.22, 0.22]],
    [[0.2, 0.3, 0.35, 0.35, 0.32, 0.3, 0.28, 0.3, 0.4, 0.45, 0.5, 0.6],
     [0.1, 0.12, 0.15, 0.2, 0.25, 0.3, 0.3, 0.3, 0.28, 0.25, 0.2, 0.15]],
    [[0.45, 0.4, 0.35, 0.3, 0.3, 0.4, 0.6, 0.7, 0.75, 0.85, 0.9, 0.8],
     [0.7, 0.55, 0.35, 0.25, 0.2, 0.3, 0.75, 0.75, 0.7, 0.78, 0.75, 0.5]],
    [[0.0, 0.3, 0.5, 0.55, 0.5, 0.45, 0.4, 0.45, 0.6, 0.85, 0.9, 0.95],
     [0.5, 0.52, 0.55, 0.52, 0.45, 0.4, 0.38, 0.38, 0.4, 0.42, 0.4, 0.4]],
    [[0.95, 0.95, 0.92, 0.85, 0.75, 0.7, 0.65, 0.6, 0.5, 0.3, 0.12, 0.1],
     [0.35, 0.4, 0.42, 0.45, 0.5, 0.55, 0.6, 0.65, 0.55, 0.3, 0.15, 0.15]],
    [[0.45, 0.4, 0.35, 0.4, 0.6, 0.4, 0.45, 0.4, 0.3, 0.25, 0.35, 0.45],
     [0.15, 0.1, 0.2, 0.28, 0.3, 0.25, 0.2, 0.15, 0.12, 0.1, 0.1, 0.12],
     [0.05, 0.1, 0.25, 0.3, 0.35, 0.3, 0.2, 0.25, 0.2, 0.1, 0.15, 0.2]],
    [[0.2, 0.3, 0.45, 0.55, 0.8, 0.95, 0.92, 0.8, 0.6, 0.35, 0.2, 0.2],
     [0.55, 0.5, 0.48, 0.5, 0.65, 0.82, 0.78, 0.65, 0.45, 0.3, 0.28, 0.35]],
]

# ---------------- layout ----------------
FONT = "Liberation Sans"
PLOT_H, GAP_H, STRIP_H = 29, 2, 21
FRAME_W, FRAME_H = 97, PLOT_H + GAP_H + STRIP_H
Y_LO, Y_HI = -0.05, 1.05
per_px = (Y_HI - Y_LO) / PLOT_H
y_top = Y_LO + FRAME_H * per_px
strip_bottom = Y_LO + (PLOT_H + GAP_H) * per_px
strip_mid = Y_LO + (PLOT_H + GAP_H + STRIP_H / 2) * per_px
X_LO, X_HI = x_pos[0], x_pos[-1]
dense_ticks = [round(v, 3) for v in np.arange(X_LO, X_HI + 0.001, 0.05)]
labelled = x_pos[1:10]

def make_panel(k):
    col, rw = k % 10, k // 10
    bottom_axis = k >= 85
    left_axis = col == 0
    if rw <= 7:
        mb = 7
    elif rw == 8:
        mb = 19
    else:
        mb = 0
    p = figure(frame_width=FRAME_W, frame_height=FRAME_H,
               x_range=Range1d(X_LO, X_HI), y_range=Range1d(Y_LO, y_top),
               x_axis_location="below" if bottom_axis else None,
               y_axis_location="left" if left_axis else None,
               output_backend="svg", toolbar_location=None,
               min_border_left=26 if left_axis else 7, min_border_right=0,
               min_border_top=0, min_border_bottom=mb,
               background_fill_color="white", border_fill_color="white",
               outline_line_color=None)
    p.grid.visible = False
    if left_axis:
        ax = p.yaxis[0]
        ax.ticker = FixedTicker(ticks=y_ticks, minor_ticks=[])
        ax.formatter = PrintfTickFormatter(format="%.1f")
        ax.axis_line_color = None
        ax.major_tick_in = 0
        ax.major_tick_out = 3
        ax.major_tick_line_color = "#333333"
        ax.major_label_text_font = FONT
        ax.major_label_text_font_size = "8.8px"
        ax.major_label_text_color = "#4D4D4D"
        ax.major_label_standoff = 2
    if bottom_axis:
        ax = p.xaxis[0]
        ax.axis_line_color = None
        ax.minor_tick_in = 0
        ax.minor_tick_out = 4
        ax.minor_tick_line_color = "#333333"
        ax.minor_tick_line_width = 1.5
        ax.major_tick_in = 0
        ax.major_tick_out = 4
        ax.major_tick_line_color = "#333333"
        ax.major_tick_line_width = 1.5
        if rw == 8:
            ax.ticker = FixedTicker(ticks=labelled, minor_ticks=dense_ticks)
            ax.major_label_overrides = {x: x_labels[x] for x in labelled}
            ax.major_label_standoff = 2
            ax.major_label_text_font = FONT
            ax.major_label_text_font_size = "10.5px"
            ax.major_label_text_font_style = "bold"
            ax.major_label_text_color = "#4D4D4D"
        else:
            ax.ticker = FixedTicker(ticks=[], minor_ticks=dense_ticks)

    color = cluster_colors[k]
    curves = member_curves[k]
    if band_opacity[k] > 0:
        p.varea(x=x_pos, y1=curves[0], y2=curves[1], fill_color=color,
                fill_alpha=band_opacity[k])
    for c in curves:
        p.line(x_pos, c, line_color=color, line_width=1.1, line_alpha=0.9)
    if mean_curves[k] is not None:
        p.line(x_pos, mean_curves[k], line_color="black", line_width=3.2,
               line_join="round", line_cap="round")

    p.add_layout(BoxAnnotation(bottom=strip_bottom, fill_color="#D9D9D9",
                               fill_alpha=1.0, line_color=None))
    p.add_layout(Label(x=(X_LO + X_HI) / 2, y=strip_mid, text=str(cluster_ids[k]),
                       text_align="center", text_baseline="middle",
                       text_font=FONT, text_font_size="10px", text_color="#1A1A1A"))
    return p

rows = []
for rw in range(10):
    figs = [make_panel(k) for k in cluster_ids if k // 10 == rw]
    rows.append(row(*figs))
layout = column(*rows)

open("out.html", "w").write(file_html(layout, INLINE))
